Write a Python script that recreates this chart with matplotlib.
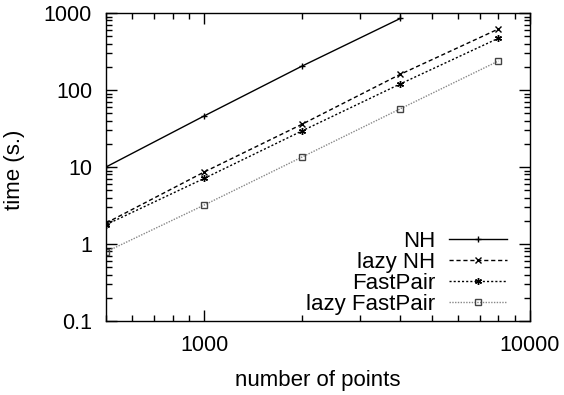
import numpy as np
import matplotlib.pyplot as plt
from matplotlib.ticker import LogLocator, FixedLocator, NullFormatter

plt.rcParams['font.family'] = ['Liberation Sans', 'DejaVu Sans']

points = [500, 1000, 2000, 4000, 8000]
nh = [10.0, 46.0, 205.0, 850.0]
lazy_nh = [1.87, 8.6, 36.0, 160.0, 620.0]
fastpair = [1.78, 7.1, 29.5, 120.0, 470.0]
lazy_fastpair = [0.79, 3.2, 13.5, 57.0, 238.0]

fig = plt.figure(figsize=(5.64, 3.95), dpi=100)
ax = fig.add_axes([106 / 564, 1 - 321 / 395, 424 / 564, 308 / 395])

ax.plot(points[:4], nh, color='black', lw=1.0, ls='-', marker='+', ms=5, mew=1.0, label='NH')
ax.plot(points, lazy_nh, color='black', lw=1.0, ls=(0, (3, 2)), marker='x', ms=4, mew=1.0, label='lazy NH')
ax.plot(points, fastpair, color='black', lw=1.0, ls=(0, (1.5, 1.5)), marker=(6, 2, 0), ms=5, mew=1.0, label='FastPair')
ax.plot(points, lazy_fastpair, color='#888888', lw=1.0, ls=(0, (1, 1)), marker='s', ms=4, mew=1.0,
        mfc='none', mec='#444444', label='lazy FastPair')

ax.set_xscale('log')
ax.set_yscale('log')
ax.set_xlim(500, 10000)
ax.set_ylim(0.1, 1000)

ax.xaxis.set_major_locator(FixedLocator([1000, 10000]))
ax.set_xticklabels(['1000', '10000'])
ax.xaxis.set_minor_locator(LogLocator(base=10, subs=np.arange(2, 10)))
ax.xaxis.set_minor_formatter(NullFormatter())
ax.yaxis.set_major_locator(FixedLocator([0.1, 1, 10, 100, 1000]))
ax.set_yticklabels(['0.1', '1', '10', '100', '1000'])
ax.yaxis.set_minor_locator(LogLocator(base=10, subs=np.arange(2, 10)))
ax.yaxis.set_minor_formatter(NullFormatter())

ax.tick_params(which='both', direction='in', top=True, right=True, labelsize=15.5, colors='black')
ax.tick_params(which='major', length=8, width=1, pad=10)
ax.tick_params(which='minor', length=4, width=1)
for s in ax.spines.values():
    s.set_linewidth(1.0)

ax.set_xlabel('number of points', fontsize=16, labelpad=10)
ax.set_ylabel('time (s.)', fontsize=16)
ax.yaxis.set_label_coords(-81 / 424, 0.49)

ax.legend(loc='lower right', frameon=False, markerfirst=False, fontsize=16,
          handlelength=2.6, labelspacing=0.0, borderaxespad=0.0, handletextpad=0.65,
          bbox_to_anchor=(0.967, -0.01))

fig.savefig('out.png', dpi=100)
